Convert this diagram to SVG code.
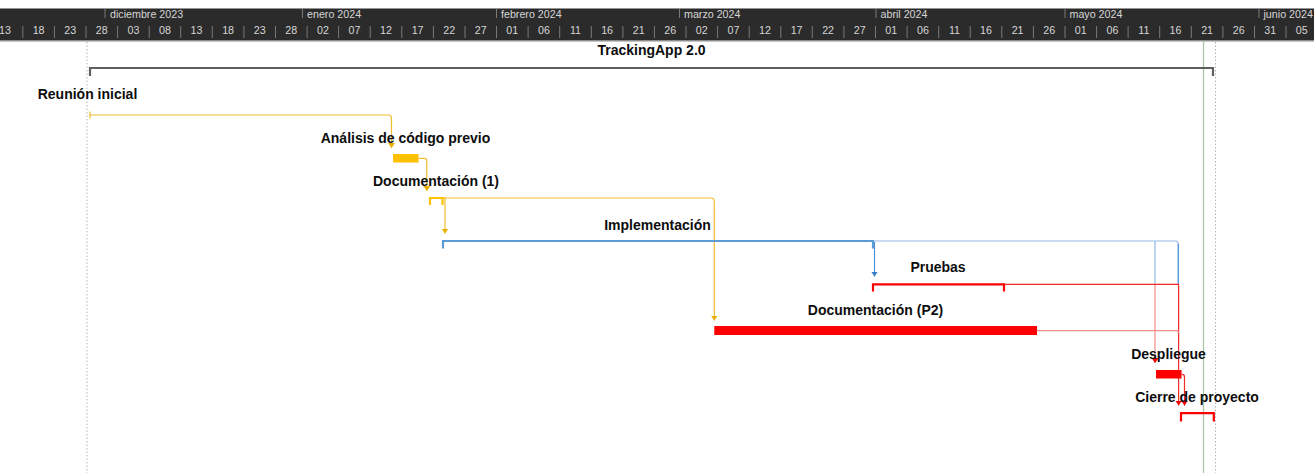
<svg xmlns="http://www.w3.org/2000/svg" width="1314" height="473" viewBox="0 0 1314 473">
<style>
.hdr{fill:#2b2b2b}
.mon{font-family:"Liberation Sans",Arial,sans-serif;font-size:10.7px;fill:#d6d6d6}
.day{font-family:"Liberation Sans",Arial,sans-serif;font-size:10.7px;fill:#d6d6d6;text-anchor:middle}
.sep{stroke:#7a7a7a;stroke-width:1;fill:none}
.lbl{font-family:"Liberation Sans",Arial,sans-serif;font-size:14px;font-weight:bold;fill:#0d0d0d;text-anchor:middle}
.dot{stroke:#b4b4b4;stroke-width:1;stroke-dasharray:1.5 2;fill:none}
.today{stroke:#a9c9a4;stroke-width:1.3;fill:none}
.sumG{stroke:#5f5f5f;stroke-width:2.2;fill:none}
.sumY{stroke:#FFC000;stroke-width:2.2;fill:none}
.sumB{stroke:#5b9bd5;stroke-width:2.2;fill:none}
.sumR{stroke:#ff0000;stroke-width:2.2;fill:none}
.barY{fill:#FFC000}
.barR{fill:#ff0000}
.cY{stroke:#f2bd2c;stroke-width:1.2;fill:none}
.cB{stroke:#4f93d8;stroke-width:1.2;fill:none}
.cBl{stroke:#8fb8e4;stroke-width:1.2;fill:none}
.cR{stroke:#f22a2a;stroke-width:1.2;fill:none}
.cRl{stroke:#f38a8a;stroke-width:1.2;fill:none}
</style>
<defs>
<marker id="aY" viewBox="0 -4 5 8" refX="5" refY="0" markerWidth="5" markerHeight="8" markerUnits="userSpaceOnUse" orient="auto"><path d="M0,-3.5 L5,0 L0,3.5 z" fill="#e8ae00"/></marker>
<marker id="aB" viewBox="0 -4 5 8" refX="5" refY="0" markerWidth="5" markerHeight="8" markerUnits="userSpaceOnUse" orient="auto"><path d="M0,-3.5 L5,0 L0,3.5 z" fill="#3a7fc8"/></marker>
<marker id="aR" viewBox="0 -4 5 8" refX="5" refY="0" markerWidth="5" markerHeight="8" markerUnits="userSpaceOnUse" orient="auto"><path d="M0,-3.5 L5,0 L0,3.5 z" fill="#f20000"/></marker>
</defs>

<g id="timescale">
<rect class="hdr" x="0" y="8.5" width="1314" height="32"/>
<line x1="0" y1="40.8" x2="1314" y2="40.8" stroke="#8c8c8c" stroke-width="1.5"/>
<path class="sep" d="M105,9V18 M302.5,9V18 M496.5,9V18 M679.5,9V18 M876,9V18 M1065,9V18 M1259,9V18"/>
<text class="mon" x="110" y="17.5">diciembre 2023</text>
<text class="mon" x="307" y="17.5">enero 2024</text>
<text class="mon" x="501" y="17.5">febrero 2024</text>
<text class="mon" x="684" y="17.5">marzo 2024</text>
<text class="mon" x="880.5" y="17.5">abril 2024</text>
<text class="mon" x="1069.5" y="17.5">mayo 2024</text>
<text class="mon" x="1263.5" y="17.5">junio 2024</text>
<path class="sep" d="M22.8,26V38 M54.4,26V38 M86,26V38 M117.6,26V38 M149.2,26V38 M180.7,26V38 M212.3,26V38 M243.9,26V38 M275.5,26V38 M307.1,26V38 M338.6,26V38 M370.2,26V38 M401.8,26V38 M433.4,26V38 M465,26V38 M496.5,26V38 M528.1,26V38 M559.7,26V38 M591.3,26V38 M622.9,26V38 M654.4,26V38 M686,26V38 M717.6,26V38 M749.2,26V38 M780.8,26V38 M812.3,26V38 M843.9,26V38 M875.5,26V38 M907.1,26V38 M938.7,26V38 M970.2,26V38 M1001.8,26V38 M1033.4,26V38 M1065,26V38 M1096.6,26V38 M1128.1,26V38 M1159.7,26V38 M1191.3,26V38 M1222.9,26V38 M1254.5,26V38 M1286,26V38"/>
<text class="day" x="5" y="33.5">13</text>
<text class="day" x="38.6" y="33.5">18</text>
<text class="day" x="70.2" y="33.5">23</text>
<text class="day" x="101.8" y="33.5">28</text>
<text class="day" x="133.4" y="33.5">03</text>
<text class="day" x="165" y="33.5">08</text>
<text class="day" x="196.5" y="33.5">13</text>
<text class="day" x="228.1" y="33.5">18</text>
<text class="day" x="259.7" y="33.5">23</text>
<text class="day" x="291.3" y="33.5">28</text>
<text class="day" x="322.9" y="33.5">02</text>
<text class="day" x="354.4" y="33.5">07</text>
<text class="day" x="386" y="33.5">12</text>
<text class="day" x="417.6" y="33.5">17</text>
<text class="day" x="449.2" y="33.5">22</text>
<text class="day" x="480.8" y="33.5">27</text>
<text class="day" x="512.3" y="33.5">01</text>
<text class="day" x="543.9" y="33.5">06</text>
<text class="day" x="575.5" y="33.5">11</text>
<text class="day" x="607.1" y="33.5">16</text>
<text class="day" x="638.7" y="33.5">21</text>
<text class="day" x="670.2" y="33.5">26</text>
<text class="day" x="701.8" y="33.5">02</text>
<text class="day" x="733.4" y="33.5">07</text>
<text class="day" x="765" y="33.5">12</text>
<text class="day" x="796.6" y="33.5">17</text>
<text class="day" x="828.1" y="33.5">22</text>
<text class="day" x="859.7" y="33.5">27</text>
<text class="day" x="891.3" y="33.5">01</text>
<text class="day" x="922.9" y="33.5">06</text>
<text class="day" x="954.5" y="33.5">11</text>
<text class="day" x="986" y="33.5">16</text>
<text class="day" x="1017.6" y="33.5">21</text>
<text class="day" x="1049.2" y="33.5">26</text>
<text class="day" x="1080.8" y="33.5">01</text>
<text class="day" x="1112.4" y="33.5">06</text>
<text class="day" x="1143.9" y="33.5">11</text>
<text class="day" x="1175.5" y="33.5">16</text>
<text class="day" x="1207.1" y="33.5">21</text>
<text class="day" x="1238.7" y="33.5">26</text>
<text class="day" x="1270.3" y="33.5">31</text>
<text class="day" x="1301.8" y="33.5">05</text>
</g>

<g id="gridlines">
<line class="dot" x1="87" y1="42" x2="87" y2="473"/>
<line class="dot" x1="1215.5" y1="42" x2="1215.5" y2="473"/>
<line class="today" x1="1203.5" y1="41.5" x2="1203.5" y2="473"/>
</g>

<g id="connectors">
<path class="cY" d="M90,115 H388.5 Q391.5,115 391.5,118 V148" marker-end="url(#aY)"/>
<path class="cY" d="M418.5,158.3 H424 Q426.8,158.3 426.8,161 V191" marker-end="url(#aY)"/>
<path class="cY" d="M443.5,198 H445 V233.5" marker-end="url(#aY)"/>
<path class="cY" d="M443.5,198 H711 Q714.3,198 714.3,201.3 V320.5" marker-end="url(#aY)"/>
<path class="cB" d="M874.5,242 V276.5" marker-end="url(#aB)"/>
<path class="cBl" d="M874,241 H1175 Q1178.3,241 1178.3,244.3 V284"/>
<path class="cBl" d="M1155,241.5 V284"/>
<path class="cB" d="M1178.3,244 V284"/>
<path class="cRl" d="M1155,284 V363" marker-end="url(#aR)"/>
<path class="cR" d="M1005,284.3 H1178.6 V405.5" marker-end="url(#aR)"/>
<path class="cRl" d="M1037,330.7 H1176 Q1178.6,330.7 1178.6,333"/>
<path class="cR" d="M1181.5,374.3 H1182 Q1184.5,374.3 1184.5,377 V405.5" marker-end="url(#aR)"/>
</g>

<g id="task-trackingapp">
<path class="sumG" d="M90,76 V68 H1213 V76"/>
<text class="lbl" x="651.5" y="55">TrackingApp 2.0</text>
</g>

<g id="task-reunion">
<line x1="90" y1="111.5" x2="90" y2="118.5" stroke="#f2bd2c" stroke-width="1.2"/>
<text class="lbl" x="87.5" y="99.3">Reunión inicial</text>
</g>

<g id="task-analisis">
<rect class="barY" x="393" y="154" width="25.5" height="8.5"/>
<text class="lbl" x="405.5" y="142.5">Análisis de código previo</text>
</g>

<g id="task-doc1">
<path class="sumY" d="M430,205 V198 H442.5 V205"/>
<text class="lbl" x="436" y="186">Documentación (1)</text>
</g>

<g id="task-implementacion">
<path class="sumB" d="M443,248.5 V241 H873 V248.5"/>
<text class="lbl" x="657.5" y="229.5">Implementación</text>
</g>

<g id="task-pruebas">
<path class="sumR" d="M873,291.5 V284.3 H1004 V291.5"/>
<text class="lbl" x="938" y="272">Pruebas</text>
</g>

<g id="task-doc2">
<rect class="barR" x="714.3" y="326" width="322.7" height="9"/>
<text class="lbl" x="875.5" y="315">Documentación (P2)</text>
</g>

<g id="task-despliegue">
<rect class="barR" x="1156" y="370" width="25.5" height="8.5"/>
<text class="lbl" x="1168.5" y="358.5">Despliegue</text>
</g>

<g id="task-cierre">
<path class="sumR" d="M1181,421.5 V413.2 H1213.8 V421.5"/>
<text class="lbl" x="1197" y="401.7">Cierre de proyecto</text>
</g>
</svg>
